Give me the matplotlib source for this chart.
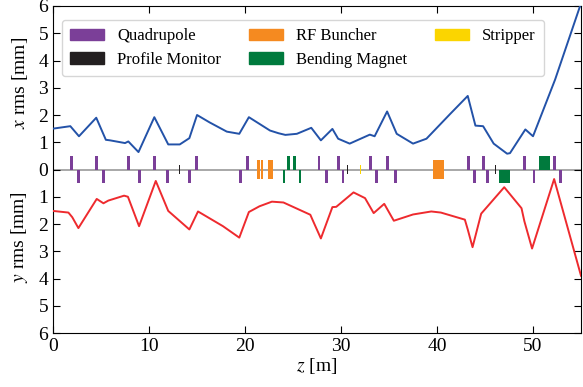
import matplotlib
matplotlib.use("Agg")
import matplotlib.pyplot as plt
from matplotlib.patches import Patch
import numpy as np

plt.rcParams['font.family'] = ['Liberation Serif', 'DejaVu Serif']
plt.rcParams['mathtext.fontset'] = 'stix'

# beam envelope
z_x = [0, 1.8, 2.7, 4.5, 5.5, 5.94, 7.5, 7.84, 8.9, 10.55, 12.0, 13.2, 14.2, 15.0,
       16.3, 18.1, 19.4, 20.4, 22.6, 23.5, 24.2, 25.4, 26.9, 27.9, 29.1, 29.7, 30.9,
       33.0, 33.5, 34.8, 35.8, 37.5, 38.9, 41.4, 43.2, 44.0, 44.8, 45.9, 47.3,
       47.6, 49.2, 50.0, 52.3, 55.0]
x_rms = [1.5, 1.59, 1.22, 1.9, 1.09, 1.07, 0.97, 1.03, 0.64, 1.92, 0.92, 0.92, 1.15, 2.0,
         1.73, 1.39, 1.31, 1.92, 1.43, 1.33, 1.27, 1.31, 1.53, 1.07, 1.49, 1.13, 0.95,
         1.28, 1.22, 2.13, 1.31, 0.95, 1.13, 2.05, 2.7, 1.61, 1.59, 0.95, 0.58,
         0.6, 1.47, 1.22, 3.3, 6.1]

z_y = [0, 1.6, 2.0, 2.64, 4.55, 5.25, 5.76, 7.4, 7.8, 8.96, 10.7, 12.0, 14.2, 15.1,
       17.7, 19.4, 20.4, 21.5, 22.8, 24.0, 26.8, 27.1, 27.9, 29.1, 29.5, 31.3, 32.5,
       33.4, 34.5, 35.5, 37.5, 39.4, 40.4, 42.9, 43.2, 43.7, 44.6, 47.0, 48.8,
       49.1, 49.9, 52.2, 55.0]
y_rms = [1.52, 1.58, 1.75, 2.15, 1.08, 1.24, 1.14, 0.96, 1.0, 2.08, 0.42, 1.52, 2.2, 1.54,
         2.08, 2.5, 1.56, 1.35, 1.18, 1.21, 1.66, 1.9, 2.53, 1.38, 1.37, 0.84, 1.05,
         1.6, 1.26, 1.88, 1.65, 1.54, 1.58, 1.84, 2.2, 2.85, 1.62, 0.65, 1.42,
         1.9, 2.9, 0.35, 3.9]

# lattice elements (z positions in m)
quad_up = [1.94, 4.55, 7.84, 10.55, 14.9, 20.25, 27.7, 29.7, 33.1, 34.8, 43.3, 44.8, 49.1, 52.2]
quad_down = [2.64, 5.24, 9.0, 11.9, 14.2, 19.55, 28.5, 30.2, 33.7, 35.7, 43.9, 45.3, 50.1, 52.9]
monitors = [13.2, 30.7, 46.1]
strippers = [32.0]
buncher_z = [21.38, 21.78, 22.68, 40.18]
buncher_w = [0.35, 0.24, 0.55, 1.15]
bend_up_z = [24.55, 25.15, 51.2]
bend_up_w = [0.3, 0.3, 1.2]
bend_down_z = [24.03, 25.7, 47.05]
bend_down_w = [0.25, 0.25, 1.1]

c_quad = '#7B3F98'
c_mon = '#231F20'
c_rf = '#F58A20'
c_bend = '#007A3D'
c_strip = '#FBD500'

fig = plt.figure(figsize=(5.83, 3.87), dpi=100)
ax = fig.add_axes([0.091, 0.1395, 0.9056, 0.845])

ax.axhline(0, color='#999999', lw=1.2, zorder=1)

ax.bar(quad_up, 0.5, width=0.3, bottom=0, color=c_quad, zorder=2)
ax.bar(quad_down, -0.5, width=0.3, bottom=0, color=c_quad, zorder=2)
ax.bar(monitors, 0.34, width=0.15, bottom=-0.17, color=c_mon, zorder=2)
ax.bar(strippers, 0.34, width=0.15, bottom=-0.17, color=c_strip, zorder=2)
ax.bar(buncher_z, 0.7, width=buncher_w, bottom=-0.35, color=c_rf, zorder=2)
ax.bar(bend_up_z, 0.48, width=bend_up_w, bottom=0, color=c_bend, zorder=2)
ax.bar(bend_down_z, -0.48, width=bend_down_w, bottom=0, color=c_bend, zorder=2)

ax.plot(z_x, x_rms, color='#2352A8', lw=1.4, zorder=3)
ax.plot(z_y, -np.array(y_rms), color='#EE2A2E', lw=1.4, zorder=3)

ax.set_xlim(0, 55)
ax.set_ylim(-6, 6)
ax.set_yticks(range(-6, 7))
ax.set_yticklabels([str(abs(v)) for v in range(-6, 7)])
ax.set_xticks([0, 10, 20, 30, 40, 50])
ax.tick_params(direction='in', top=True, right=True, labelsize=14, length=5)
ax.set_xlabel('$z$ [m]', fontsize=14, labelpad=1)

fig.text(0.034, 1 - 83 / 387, '$x$ rms [mm]', rotation=90, ha='center', va='center', fontsize=14)
fig.text(0.034, 1 - 237 / 387, '$y$ rms [mm]', rotation=90, ha='center', va='center', fontsize=14)

handles = [Patch(color=c_quad, label='Quadrupole'),
           Patch(color=c_mon, label='Profile Monitor'),
           Patch(color=c_rf, label='RF Buncher'),
           Patch(color=c_bend, label='Bending Magnet'),
           Patch(color=c_strip, label='Stripper')]
ax.legend(handles=handles, ncol=3, loc='upper left', fontsize=12, labelspacing=0.45,
          columnspacing=1.7, borderpad=0.5, bbox_to_anchor=(0.017, 0.957),
          borderaxespad=0)

fig.savefig('out.png', dpi=100)
